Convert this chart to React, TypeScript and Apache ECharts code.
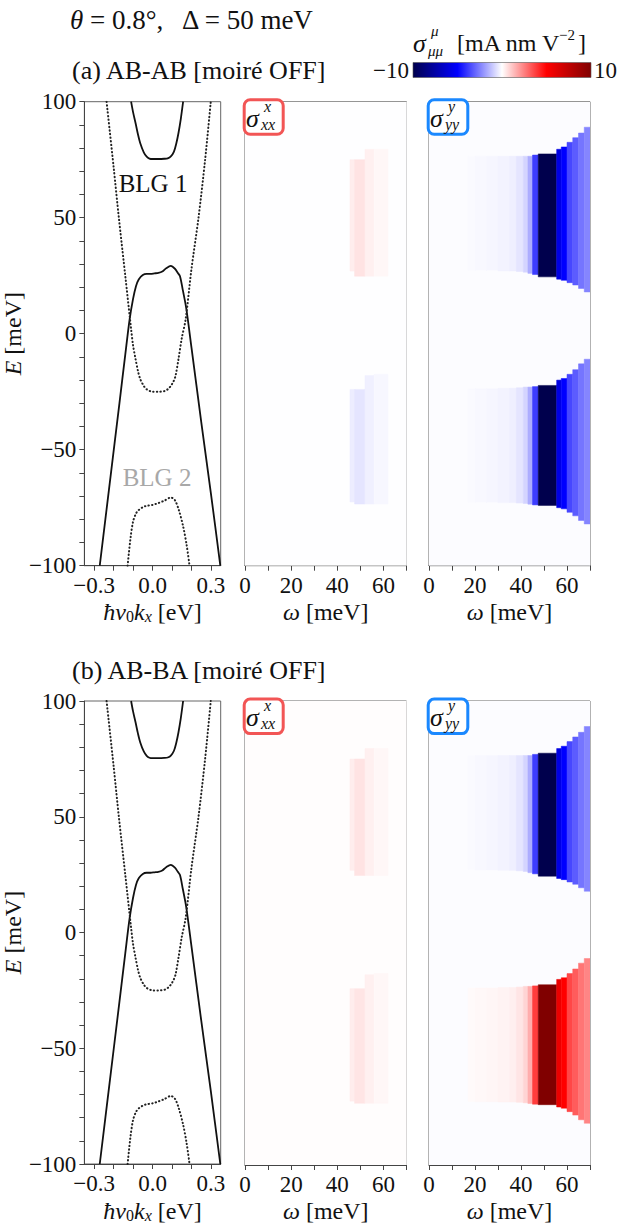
import React, { useEffect, useRef } from 'react';
import * as echarts from 'echarts';

const FONT = '"Liberation Serif", "DejaVu Serif", serif';

// ---------- band structure (k in eV, E in meV) ----------
const BLG1_COND_K = [-0.11, -0.1, -0.087, -0.075, -0.063, -0.045, -0.03, -0.016, 0.0, 0.03, 0.06, 0.078, 0.094, 0.11, 0.122, 0.133, 0.145, 0.157];
const BLG1_COND_E = [100, 95.5, 90.7, 86, 82.1, 78.2, 76.3, 75.5, 75.3, 75.3, 75.4, 75.6, 76.4, 78.5, 82, 86.4, 92.5, 100];

const BLG1_VAL_K = [-0.271, -0.22, -0.17, -0.14, -0.118, -0.1, -0.085, -0.071, -0.05, -0.03, -0.01, 0.01, 0.03, 0.05, 0.07, 0.094, 0.115, 0.13, 0.141, 0.155, 0.173, 0.2, 0.25, 0.3, 0.348];
const BLG1_VAL_E = [-100, -64.6, -30, -9, 6, 15, 20.5, 23.4, 25.3, 25.8, 25.8, 26, 26.2, 26.8, 28.2, 29.2, 28, 26.2, 24.8, 19, 11, -6, -38, -69, -100];

const BLG2_COND_K = [-0.236, -0.2, -0.173, -0.14, -0.11, -0.1, -0.087, -0.075, -0.063, -0.045, -0.031, 0.0, 0.03, 0.063, 0.08, 0.094, 0.108, 0.118, 0.133, 0.15, 0.17, 0.2, 0.236, 0.27, 0.299];
const BLG2_COND_E = [100, 72, 50, 25, 2, -5, -11, -16, -19.6, -22.5, -23.9, -25, -25, -24.7, -23.8, -22.5, -20.5, -18.2, -11, -2, 6.2, 28, 50, 75, 100];

const BLG2_VAL_K = [-0.128, -0.113, -0.1, -0.085, -0.071, -0.05, -0.031, 0.0, 0.03, 0.06, 0.094, 0.115, 0.135, 0.157, 0.175, 0.19];
const BLG2_VAL_E = [-100, -88, -81, -77.5, -76, -74.8, -74.2, -73.8, -73, -72, -70.6, -71.8, -76, -83, -91, -100];

// ---------- conductivity maps (ω column edges in meV, E edges in meV, values in mA nm V^-2) ----------
const YY_W = [17, 20, 25, 30, 35, 38, 41, 43, 45, 47.5, 55.5, 57.5, 60, 62.5, 65, 67.5, 70];
const YY_A_UP = [-0.1, -0.13, -0.17, -0.24, -0.32, -0.5, -0.85, -1.6, -3.8, -10, -5.8, -5.0, -3.6, -3.2, -2.7, -2.4];
const YY_A_LO = [-0.1, -0.13, -0.17, -0.24, -0.32, -0.5, -0.85, -1.6, -3.8, -10, -5.8, -5.0, -3.6, -3.2, -2.7, -2.4];
const YY_B_UP = [-0.1, -0.13, -0.17, -0.24, -0.32, -0.5, -0.85, -1.6, -3.8, -10, -5.8, -5.0, -3.6, -3.2, -2.7, -2.4];
const YY_B_LO = [0.1, 0.13, 0.17, 0.24, 0.32, 0.5, 0.85, 1.6, 3.8, 10, 5.8, 5.0, 3.6, 3.2, 2.7, 2.4];
const YY_UP_TOP = [76.5, 76.5, 76.5, 76.5, 76.5, 76.5, 76.5, 76.5, 77, 77.5, 79.5, 80.5, 82.5, 84.5, 86.5, 89];
const YY_UP_BOT = [27.3, 27.3, 27.3, 27, 27, 26.8, 26.5, 26, 25.5, 24.5, 23.5, 23, 22, 21, 19.5, 18];
const YY_LO_TOP = [-23.7, -23.7, -23.7, -23.5, -23.5, -23.3, -23, -23, -22.8, -22.3, -20, -19.3, -17.5, -15.5, -13, -11];
const YY_LO_BOT = [-72.7, -72.7, -72.7, -72.8, -72.8, -73, -73.2, -73.5, -73.8, -74, -75, -75.5, -77, -78.5, -80.5, -82];

const XX_W = [45.5, 47.5, 52, 56, 62];
const XX_A_UP = [0.35, 0.55, 0.3, 0.15];
const XX_A_LO = [-0.35, -0.5, -0.3, -0.15];
const XX_B_UP = [0.35, 0.55, 0.3, 0.15];
const XX_B_LO = [0.35, 0.5, 0.3, 0.15];
const XX_UP_TOP = [75, 75, 79.5, 79.5];
const XX_UP_BOT = [27, 24.8, 24.8, 24.8];
const XX_LO_TOP = [-24, -24, -18, -17.5];
const XX_LO_BOT = [-72.5, -73.4, -73.4, -73.4];

const BG_XX_A = -0.02;
const BG_YY_A = -0.06;
const BG_XX_B = 0.03;
const BG_YY_B = -0.05;

const SEISMIC = ['#00004d', '#0000ff', '#ffffff', '#ff0000', '#800000'];
const CB_MIN = -10;
const CB_MAX = 10;

const K_TICKS = [-0.3, -0.2, -0.1, 0, 0.1, 0.2, 0.3];
const K_LABELS = [-0.3, 0, 0.3];

// ---------- layout ----------
const TOPS = [101.7, 701];
const GH = 464;
const BAND_L = 71.7, BAND_W = 149;
const XX_L = 245, XX_WD = 161.5;
const YY_L = 429, YY_WD = 161;
const TICK_FS = 23;
const NAME_FS = 24;

const minus = (s: string) => s.replace('-', '\u2212');

function pts(k: number[], e: number[]) {
  return k.map((v, i) => [v, e[i]]);
}

function cells(w: number[], vals: number[], tops: number[], bots: number[]) {
  const out: number[][] = [];
  for (let i = 0; i < vals.length; i++) {
    out.push([w[i], w[i + 1], bots[i], tops[i], vals[i]]);
  }
  return out;
}

function buildOption() {
  const grids: any[] = [];
  const xAxes: any[] = [];
  const yAxes: any[] = [];
  const series: any[] = [];
  const axisLineStyle = { color: '#444', width: 1 };
  const labelStyle = { fontFamily: FONT, fontSize: TICK_FS, color: '#111' };
  const nameStyle = {
    fontFamily: FONT, fontSize: NAME_FS, color: '#111',
    rich: {
      i: { fontFamily: FONT, fontSize: NAME_FS, fontStyle: 'italic', color: '#111' },
      s: { fontFamily: FONT, fontSize: 16, fontStyle: 'italic', color: '#111', padding: [9, 0, 0, 0] },
      n: { fontFamily: FONT, fontSize: 16, color: '#111', padding: [9, 0, 0, 0] },
    },
  };

  TOPS.forEach((top) => {
    grids.push({ left: BAND_L, top, width: BAND_W, height: GH, show: true, borderColor: '#666', borderWidth: 1 });
    grids.push({ left: XX_L, top, width: XX_WD, height: GH, show: true, borderColor: '#666', borderWidth: 1 });
    grids.push({ left: YY_L, top, width: YY_WD, height: GH, show: true, borderColor: '#666', borderWidth: 1 });
  });

  for (let p = 0; p < 2; p++) {
    const g0 = p * 3;
    xAxes.push({
      type: 'value', gridIndex: g0, min: -0.35, max: 0.35,
      axisLine: { show: true, onZero: false, lineStyle: axisLineStyle },
      axisTick: { show: true, length: 5, customValues: K_TICKS, lineStyle: axisLineStyle },
      axisLabel: { customValues: K_LABELS, ...labelStyle, margin: 8, formatter: (v: number) => minus(v.toFixed(1)) },
      splitLine: { show: false },
      name: '{i|ħv}{n|0}{i|k}{s|x} [eV]', nameLocation: 'middle', nameGap: 34, nameTextStyle: nameStyle,
    });
    yAxes.push({
      type: 'value', gridIndex: g0, min: -100, max: 100, interval: 10,
      axisLine: { show: true, onZero: false, lineStyle: axisLineStyle },
      axisTick: { show: true, length: 5, lineStyle: axisLineStyle },
      axisLabel: { ...labelStyle, margin: 8, formatter: (v: number) => (v % 50 === 0 ? minus(String(v)) : '') },
      splitLine: { show: false },
      name: '{i|E} [meV]', nameLocation: 'middle', nameGap: 28, nameRotate: 90, nameTextStyle: nameStyle,
    });
    for (let j = 1; j <= 2; j++) {
      xAxes.push({
        type: 'value', gridIndex: g0 + j, min: 0, max: 70, interval: 10,
        axisLine: { show: true, onZero: false, lineStyle: axisLineStyle },
        axisTick: { show: true, length: 5, lineStyle: axisLineStyle },
        axisLabel: { ...labelStyle, margin: 8, formatter: (v: number) => (v % 20 === 0 && v < 70 ? String(v) : '') },
        splitLine: { show: false },
        name: '{i|ω} [meV]', nameLocation: 'middle', nameGap: 34, nameTextStyle: nameStyle,
      });
      yAxes.push({
        type: 'value', gridIndex: g0 + j, min: -100, max: 100,
        axisLine: { show: true, onZero: false, lineStyle: axisLineStyle },
        axisTick: { show: false }, axisLabel: { show: false }, splitLine: { show: false },
      });
    }
  }

  const solid = { color: '#111', width: 1.8 };
  const dotted = { color: '#222', width: 2, type: [0.4, 3.2], cap: 'round' };
  for (let p = 0; p < 2; p++) {
    const ax = p * 3;
    const mk = (d: number[][], ls: any) => ({
      type: 'line', xAxisIndex: ax, yAxisIndex: ax, data: d, showSymbol: false, symbol: 'none',
      smooth: 0.3, lineStyle: ls, silent: true, clip: true, z: 3,
    });
    series.push(mk(pts(BLG1_COND_K, BLG1_COND_E), solid));
    series.push(mk(pts(BLG1_VAL_K, BLG1_VAL_E), solid));
    series.push(mk(pts(BLG2_COND_K, BLG2_COND_E), dotted));
    series.push(mk(pts(BLG2_VAL_K, BLG2_VAL_E), dotted));
  }

  const maps = [
    { ax: 1, bg: BG_XX_A, blocks: [cells(XX_W, XX_A_UP, XX_UP_TOP, XX_UP_BOT), cells(XX_W, XX_A_LO, XX_LO_TOP, XX_LO_BOT)] },
    { ax: 2, bg: BG_YY_A, blocks: [cells(YY_W, YY_A_UP, YY_UP_TOP, YY_UP_BOT), cells(YY_W, YY_A_LO, YY_LO_TOP, YY_LO_BOT)] },
    { ax: 4, bg: BG_XX_B, blocks: [cells(XX_W, XX_B_UP, XX_UP_TOP, XX_UP_BOT), cells(XX_W, XX_B_LO, XX_LO_TOP, XX_LO_BOT)] },
    { ax: 5, bg: BG_YY_B, blocks: [cells(YY_W, YY_B_UP, YY_UP_TOP, YY_UP_BOT), cells(YY_W, YY_B_LO, YY_LO_TOP, YY_LO_BOT)] },
  ];
  const mapSeriesIdx: number[] = [];
  maps.forEach((m) => {
    const data = [[0, 70, -100, 100, m.bg], ...m.blocks[0], ...m.blocks[1]];
    mapSeriesIdx.push(series.length);
    series.push({
      type: 'custom', xAxisIndex: m.ax, yAxisIndex: m.ax, data, silent: true, clip: true, z: 1,
      dimensions: ['w0', 'w1', 'e0', 'e1', 'v'],
      encode: { x: [0, 1], y: [2, 3] },
      renderItem: (params: any, api: any) => {
        const a = api.coord([api.value(0), api.value(3)]);
        const b = api.coord([api.value(1), api.value(2)]);
        const c = api.visual('color');
        return {
          type: 'rect',
          shape: { x: a[0], y: a[1], width: b[0] - a[0], height: b[1] - a[1] },
          style: { fill: c, stroke: c, lineWidth: 0.5 },
        };
      },
    });
  });

  const graphic: any[] = [];
  const txt = (x: number, y: number, text: string, size: number, extra: any = {}) => ({
    type: 'text', x, y, z: 100,
    style: { text, fontFamily: FONT, fontSize: size, fill: '#111', textVerticalAlign: 'middle', ...extra },
  });

  graphic.push(txt(70, 20, '{i|θ} = 0.8°,   Δ = 50 meV', 27, { rich: { i: { fontFamily: FONT, fontSize: 27, fontStyle: 'italic', fill: '#111' } } }));
  graphic.push(txt(72, 70, '(a) AB-AB [moiré OFF]', 26));
  graphic.push(txt(72, 670, '(b) AB-BA [moiré OFF]', 26));

  // colorbar
  graphic.push({
    type: 'rect', z: 100, shape: { x: 413, y: 62.5, width: 178, height: 15 },
    style: {
      fill: { type: 'linear', x: 0, y: 0, x2: 1, y2: 0, colorStops: SEISMIC.map((c, i) => ({ offset: i / (SEISMIC.length - 1), color: c })) },
      stroke: '#555', lineWidth: 0.6,
    },
  });
  graphic.push(txt(409, 70, minus(String(CB_MIN)), 23, { textAlign: 'right' }));
  graphic.push(txt(594, 70, String(CB_MAX), 23));
  graphic.push(txt(413, 43, 'σ', 26, { fontStyle: 'italic' }));
  graphic.push(txt(431, 31, 'μ', 15, { fontStyle: 'italic' }));
  graphic.push(txt(428, 51, 'μμ', 15, { fontStyle: 'italic' }));
  graphic.push(txt(457, 43, '[mA nm V', 24));
  graphic.push(txt(559, 35, '−2', 15));
  graphic.push(txt(578, 43, ']', 24));

  // band labels
  graphic.push(txt(153, 183, 'BLG 1', 25, { textAlign: 'center' }));
  graphic.push(txt(157, 477, 'BLG 2', 25, { textAlign: 'center', fill: '#a8a8a8' }));

  // sigma boxes
  TOPS.forEach((top) => {
    const dy = top - TOPS[0];
    graphic.push({ type: 'rect', z: 100, shape: { x: 244.2, y: 99.8 + dy, width: 39, height: 34.5, r: 6 }, style: { fill: '#fff', stroke: '#f25555', lineWidth: 3 } });
    graphic.push(txt(246, 118 + dy, 'σ', 26, { fontStyle: 'italic' }));
    graphic.push(txt(264, 106 + dy, 'x', 16, { fontStyle: 'italic' }));
    graphic.push(txt(261, 124.5 + dy, 'xx', 16, { fontStyle: 'italic' }));
    graphic.push({ type: 'rect', z: 100, shape: { x: 428.2, y: 99.8 + dy, width: 39.6, height: 34.5, r: 6 }, style: { fill: '#fff', stroke: '#1a88ff', lineWidth: 3 } });
    graphic.push(txt(430, 118 + dy, 'σ', 26, { fontStyle: 'italic' }));
    graphic.push(txt(448, 106 + dy, 'y', 16, { fontStyle: 'italic' }));
    graphic.push(txt(445, 124.5 + dy, 'yy', 16, { fontStyle: 'italic' }));
  });

  return {
    animation: false,
    backgroundColor: '#fff',
    grid: grids,
    xAxis: xAxes,
    yAxis: yAxes,
    visualMap: {
      show: false, type: 'continuous', min: CB_MIN, max: CB_MAX, dimension: 4,
      seriesIndex: mapSeriesIdx, inRange: { color: SEISMIC },
    },
    series,
    graphic,
  };
}

export default function App() {
  const ref = useRef<HTMLDivElement>(null);
  useEffect(() => {
    const chart = echarts.init(ref.current!, null, { renderer: 'svg' });
    chart.setOption(buildOption() as any);
    return () => chart.dispose();
  }, []);
  return <div ref={ref} style={{ position: 'absolute', left: 0, top: 0, width: 621, height: 1224, background: '#fff' }} />;
}
